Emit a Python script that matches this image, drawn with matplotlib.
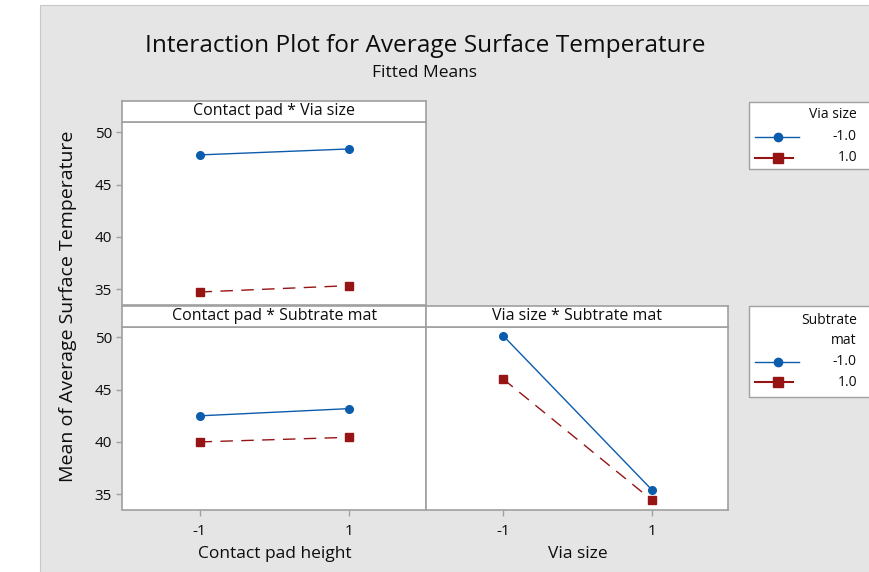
import matplotlib
matplotlib.use("Agg")
import matplotlib.pyplot as plt
from matplotlib.patches import Rectangle
from matplotlib.lines import Line2D

plt.rcParams['font.family'] = ['Liberation Sans Narrow', 'Open Sans', 'DejaVu Sans']

# ---- data ----
levels = [-1, 1]
tick_labels = ["-1", "1"]
series_labels = ["-1.0", "1.0"]

# Contact pad * Via size (x = Contact pad height, series = Via size)
cp_via_m1 = [47.83, 48.40]
cp_via_p1 = [34.74, 35.35]
# Contact pad * Subtrate mat (x = Contact pad height, series = Subtrate mat)
cp_sub_m1 = [42.49, 43.18]
cp_sub_p1 = [40.00, 40.44]
# Via size * Subtrate mat (x = Via size, series = Subtrate mat)
via_sub_m1 = [50.15, 35.44]
via_sub_p1 = [46.01, 34.46]

yticks = [35, 40, 45, 50]

BLUE = '#0B5CAD'
RED = '#961414'
BG = '#E5E5E5'
EDGE = '#A0A0A0'
TXT = '#0D0D0D'

W, H = 870, 572
fig = plt.figure(figsize=(W / 100, H / 100), dpi=100)
fig.patch.set_facecolor('white')

def fx(px):
    return px / W

def fy(py):
    return 1 - py / H

# gray background region
fig.patches.append(Rectangle((fx(40), 0), 1 - fx(40), fy(4.5), transform=fig.transFigure,
                             facecolor=BG, edgecolor='#C8C8C8', linewidth=0.8, zorder=-10))

fig.text(fx(425), fy(46), "Interaction Plot for Average Surface Temperature",
         ha='center', va='center', fontsize=17.6, color=TXT)
fig.text(fx(425), fy(73), "Fitted Means", ha='center', va='center', fontsize=12.5, color=TXT)

ylim = (33.5, 51.0)
xlim = (-2.03, 2.03)

def make_panel(x0, x1, y0, y1, title, ya, yb, show_y, show_x, xlabel=None):
    ax = fig.add_axes([fx(x0), fy(y1), fx(x1) - fx(x0), fy(y0) - fy(y1)])
    ax.set_facecolor('white')
    ax.plot(levels, ya, color=BLUE, lw=1.0, marker='o', ms=5.5, zorder=3)
    ax.plot(levels, yb, color=RED, lw=1.0, ls=(0, (9, 6)), marker='s', ms=6, zorder=3)
    ax.set_xlim(*xlim)
    ax.set_ylim(*ylim)
    for s in ax.spines.values():
        s.set_color(EDGE)
        s.set_linewidth(1.2)
    ax.tick_params(color=EDGE, labelcolor=TXT, labelsize=11, length=4, width=1)
    if show_y:
        ax.set_yticks(yticks)
    else:
        ax.set_yticks([])
    if show_x:
        ax.set_xticks(levels)
        ax.set_xticklabels(tick_labels)
        ax.tick_params(axis='x', pad=6)
        if xlabel:
            ax.set_xlabel(xlabel, fontsize=12.5, color=TXT, labelpad=5)
    else:
        ax.set_xticks([])
    # strip
    sax = fig.add_axes([fx(x0), fy(y0), fx(x1) - fx(x0), fy(y0 - 20.5) - fy(y0)])
    sax.set_xticks([]); sax.set_yticks([])
    sax.set_facecolor('white')
    for s in sax.spines.values():
        s.set_color(EDGE)
        s.set_linewidth(1.2)
    sax.text(0.5, 0.5, title, ha='center', va='center', fontsize=11.5, color=TXT,
             transform=sax.transAxes)
    return ax

make_panel(122.5, 426.5, 121.7, 305, "Contact pad * Via size", cp_via_m1, cp_via_p1, True, False)
make_panel(122.5, 426.5, 326.7, 510, "Contact pad * Subtrate mat", cp_sub_m1, cp_sub_p1, True, True,
           "Contact pad height")
make_panel(426.5, 728.3, 326.7, 510, "Via size * Subtrate mat", via_sub_m1, via_sub_p1, False, True,
           "Via size")

fig.text(fx(68), fy(306), "Mean of Average Surface Temperature", rotation=90,
         ha='center', va='center', fontsize=14, color=TXT)

# legends (drawn in pixel coordinates on an overlay axes)
lax = fig.add_axes([0, 0, 1, 1])
lax.set_xlim(0, W)
lax.set_ylim(H, 0)
lax.axis('off')
lax.patch.set_alpha(0)

def legend_box(top, bottom, title_lines, row_ys):
    lax.add_patch(Rectangle((749, top), 130, bottom - top, facecolor='white',
                            edgecolor=EDGE, linewidth=1.0, clip_on=False))
    for t, ty in title_lines:
        lax.text(857, ty, t, ha='right', va='center', fontsize=10, color=TXT)
    (yb, yr) = row_ys
    lax.add_line(Line2D([755, 799], [yb, yb], color=BLUE, lw=1.0))
    lax.plot([778], [yb], marker='o', color=BLUE, ms=6)
    lax.add_line(Line2D([755, 793], [yr, yr], color=RED, lw=1.5))
    lax.plot([778], [yr], marker='s', color=RED, ms=6.5)
    lax.text(857, yb, series_labels[0], ha='right', va='center', fontsize=10, color=TXT)
    lax.text(857, yr, series_labels[1], ha='right', va='center', fontsize=10, color=TXT)

legend_box(101.7, 169.3, [("Via size", 115)], (136.7, 157.5))
legend_box(306, 396.7, [("Subtrate", 320.5), ("mat", 340.5)], (361.5, 382))

fig.savefig("out.png", dpi=100, facecolor=fig.get_facecolor())
